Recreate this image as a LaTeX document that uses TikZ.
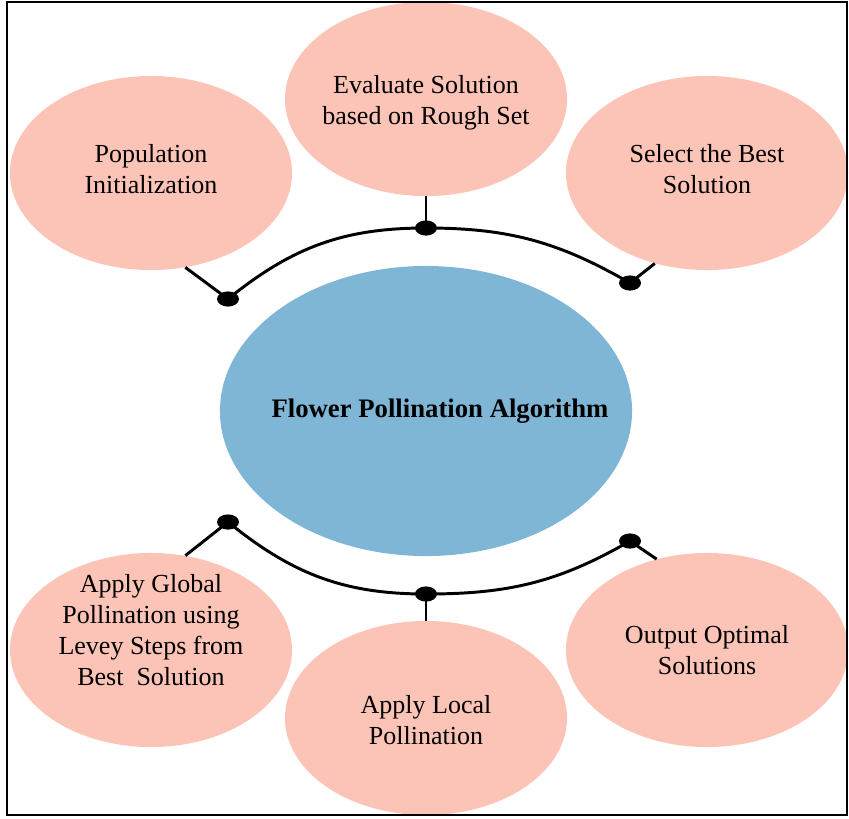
\documentclass[tikz,border=0pt]{standalone}
\usepackage{fontspec}
\setmainfont{Liberation Serif}
\usepackage{tikz}
\usetikzlibrary{shapes.geometric, positioning, calc}
\definecolor{petal}{HTML}{FCC4B6}
\definecolor{corebl}{HTML}{7FB6D6}
\tikzset{
    stage_node/.style={
        ellipse, inner sep=0pt, minimum width=7.05cm, minimum height=4.85cm, fill=petal
    },
    stage_text/.style={
        align=center, inner sep=0pt, font=\fontsize{18.5}{22}\selectfont
    },
    core_node/.style={
        ellipse, inner sep=0pt, minimum width=10.3cm, minimum height=7.25cm, fill=corebl,
        label={[align=center, inner sep=0pt, xshift=0.35cm, font=\fontsize{19}{22}\selectfont\bfseries]center:#1}
    },
    joint_node/.style={
        ellipse, inner sep=0pt, minimum width=0.55cm, minimum height=0.38cm, fill=black
    },
    link/.style={
        line width=2.1pt, draw=black
    }
}

\begin{document}
\begin{tikzpicture}[x=0.025cm, y=-0.025cm]
    \useasboundingbox (0, 0) rectangle (849, 818);
    \fill[white] (0, 0) rectangle (849, 818);

    \node[stage_node, label={[stage_text, yshift=0.1cm]center:{Population\\Initialization}}] (pop) at (151, 173) {};
    \node[stage_node, label={[stage_text, yshift=-0.1cm]center:{Evaluate Solution\\based on Rough Set}}] (eval) at (426, 99) {};
    \node[stage_node, label={[stage_text, yshift=0.1cm]center:{Select the Best\\Solution}}] (best) at (707, 173) {};
    \node[stage_node, label={[stage_text, yshift=0.5cm]center:{Apply Global\\Pollination using\\Levey Steps from\\Best~~Solution}}] (global) at (151, 650) {};
    \node[stage_node, label={[stage_text, yshift=-0.05cm]center:{Apply Local\\Pollination}}] (local) at (426, 718) {};
    \node[stage_node, label={[stage_text]center:{Output Optimal\\Solutions}}] (output) at (707, 650) {};
    \node[core_node={Flower Pollination Algorithm}] (fpa) at (426, 411) {};

    % joints on the two arcs
    \node[joint_node] (up1) at (228, 299) {};
    \node[joint_node] (up2) at (426, 228) {};
    \node[joint_node] (up3) at (630, 283) {};
    \node[joint_node] (lo1) at (228, 522) {};
    \node[joint_node] (lo2) at (426, 594) {};
    \node[joint_node] (lo3) at (630, 541) {};

    \draw[link] (up1.center) to[out=39, in=180] (up2.center) to[out=0, in=150] (up3.center);
    \draw[link] (lo1.center) to[out=-39, in=180] (lo2.center) to[out=0, in=-150] (lo3.center);

    \draw[link] (pop.-70) -- (up1.center);
    \draw[link] (eval.south) -- (up2.center);
    \draw[link] (best.-120) -- (up3.center);
    \draw[link] (global.70) -- (lo1.center);
    \draw[link] (local.north) -- (lo2.center);
    \draw[link] (output.119) -- (lo3.center);

    \draw[line width=2pt] (7, 2) rectangle (847, 815);
\end{tikzpicture}
\end{document}
